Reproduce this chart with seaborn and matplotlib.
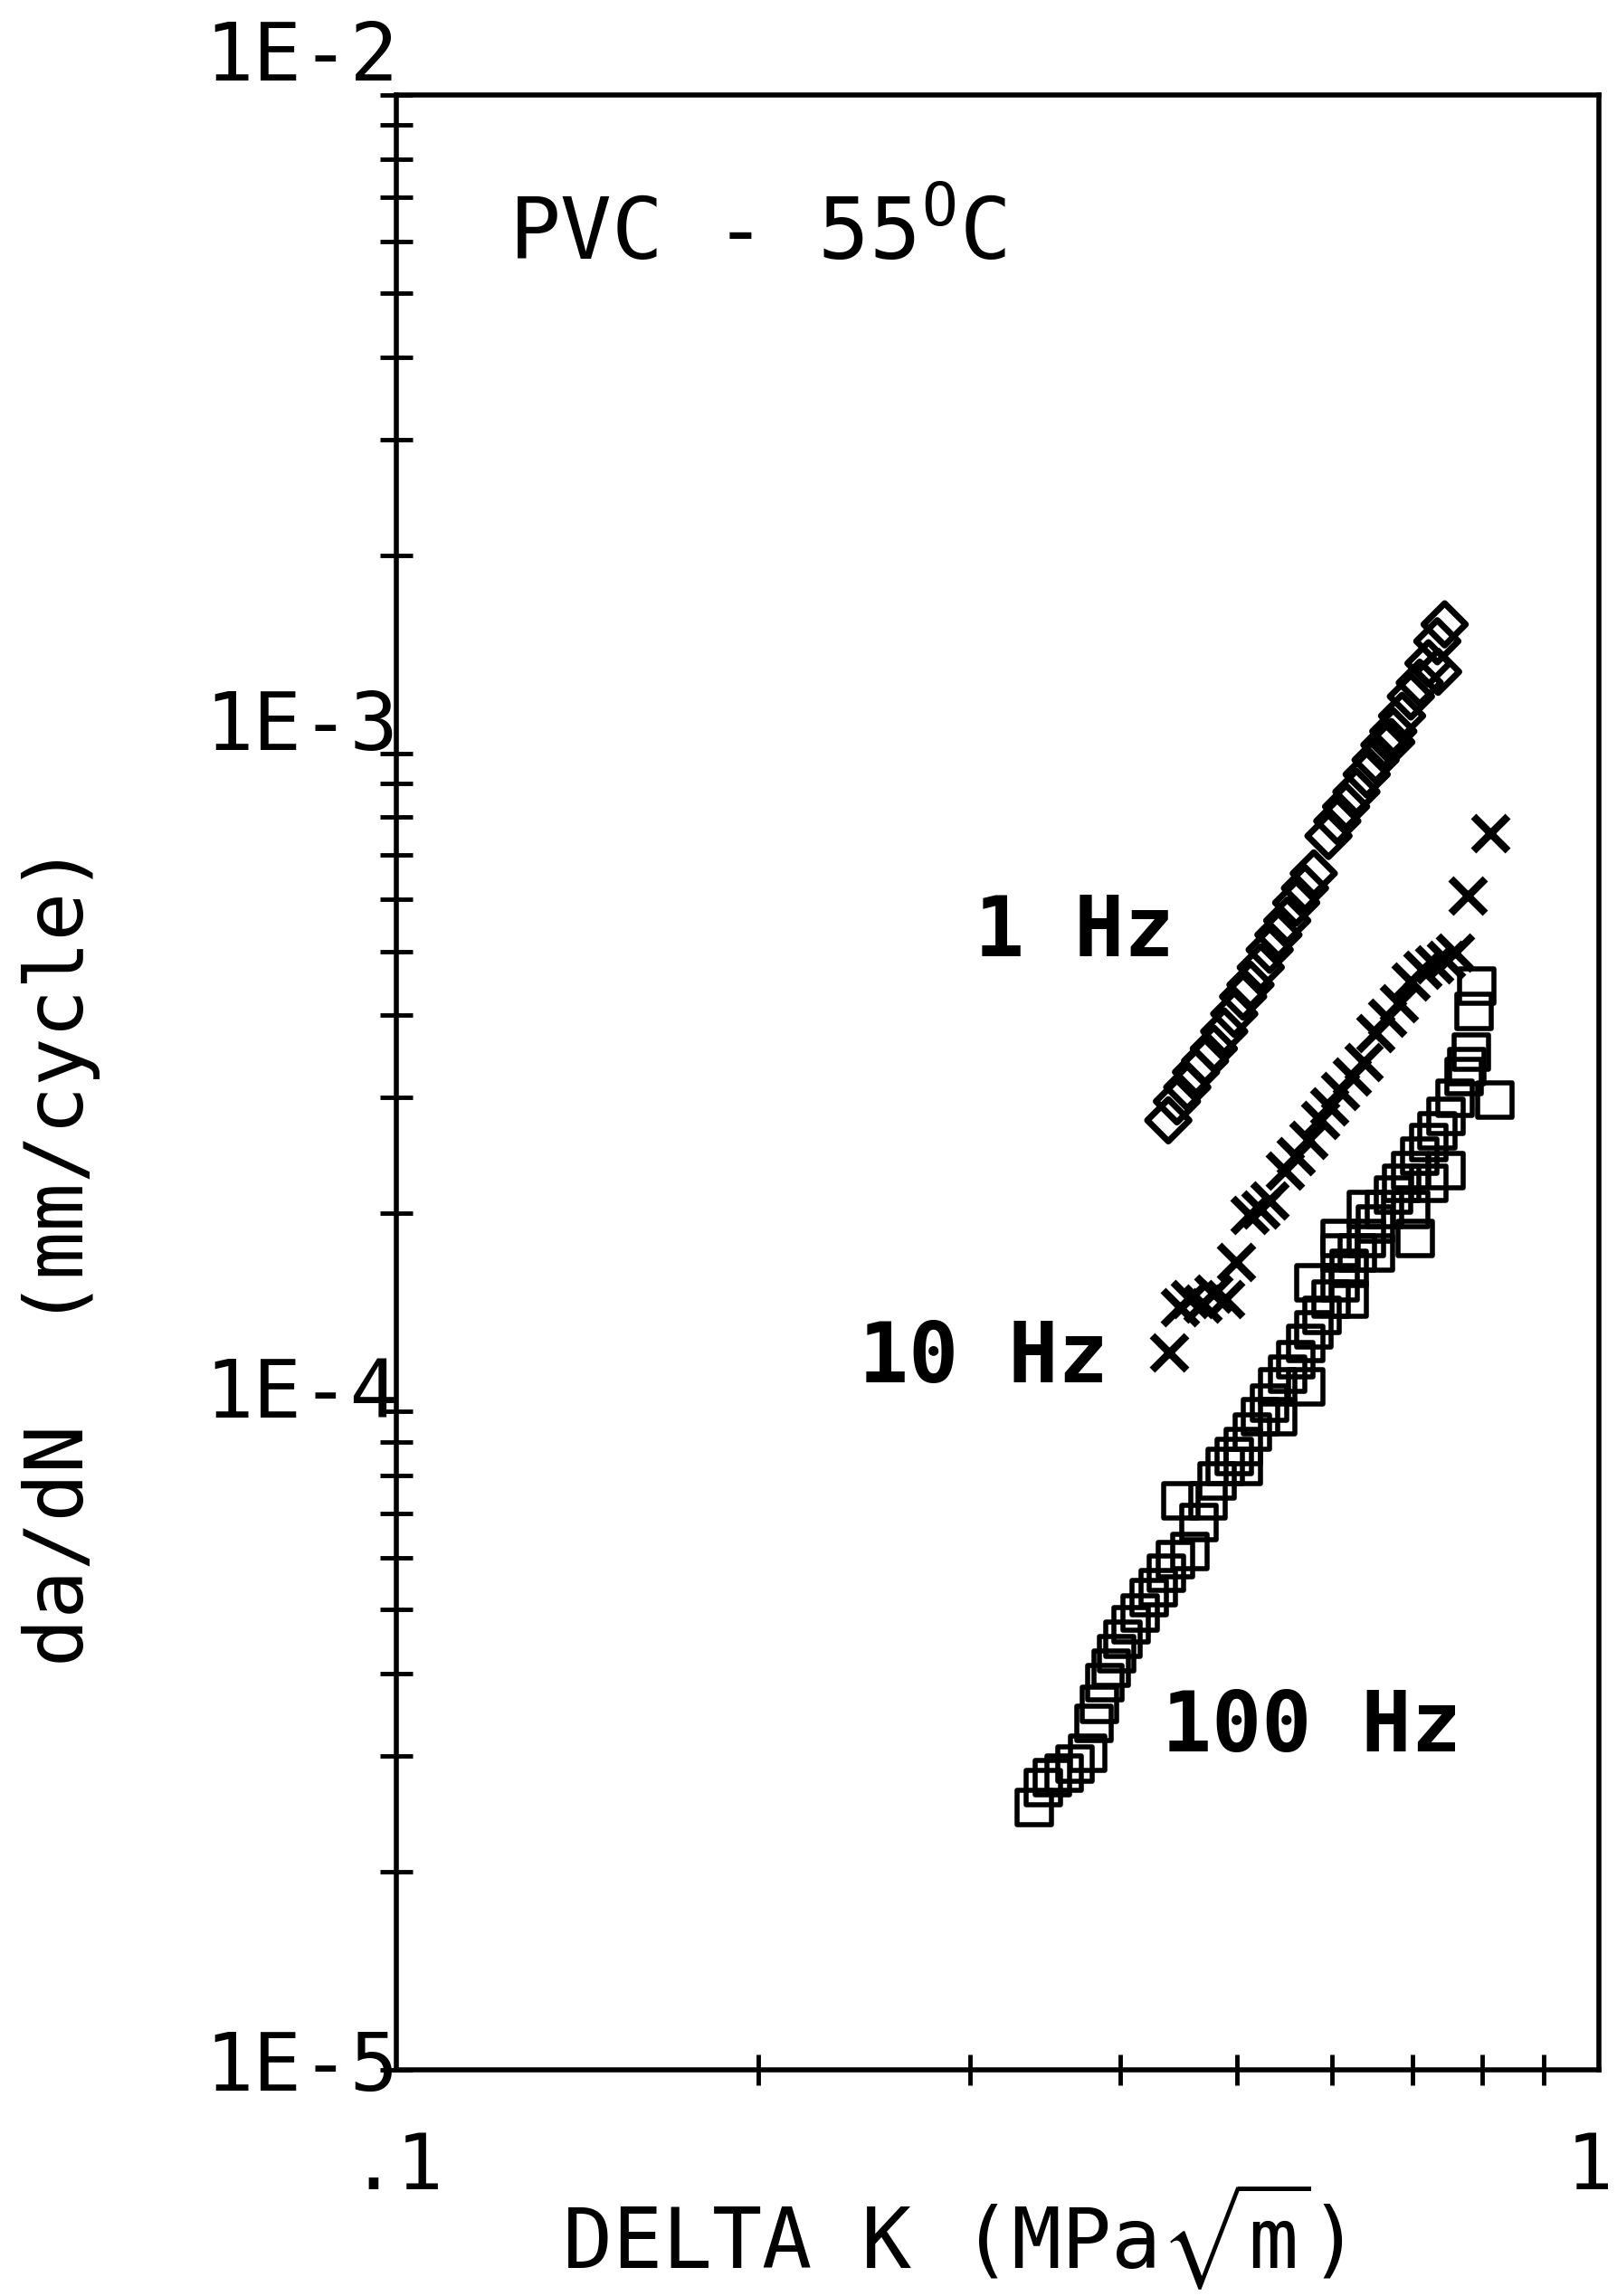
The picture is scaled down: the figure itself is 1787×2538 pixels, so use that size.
import matplotlib
matplotlib.use("Agg")
import matplotlib.pyplot as plt
import matplotlib.transforms as mtransforms
import seaborn as sns
from matplotlib.ticker import FixedLocator, NullFormatter

# Data: delta K (MPa sqrt m) vs da/dN (mm/cycle)
dk_1hz = [0.4385, 0.4458, 0.4547, 0.4624, 0.4704, 0.4784, 0.4880, 0.4975,
          0.5060, 0.5132, 0.5234, 0.5324, 0.5414, 0.5506, 0.5601, 0.5696,
          0.5793, 0.5959, 0.6060, 0.6163, 0.6286, 0.6411, 0.6521, 0.6632,
          0.6746, 0.6860, 0.6977, 0.7096, 0.7216, 0.7339, 0.7443, 0.672, 0.735]
dadn_1hz = [2.77e-4, 2.96e-4, 3.11e-4, 3.28e-4, 3.41e-4, 3.56e-4, 3.78e-4, 4.02e-4,
            4.27e-4, 4.45e-4, 4.73e-4, 5.03e-4, 5.30e-4, 5.57e-4, 5.93e-4, 6.24e-4,
            6.57e-4, 7.49e-4, 7.89e-4, 8.30e-4, 8.74e-4, 9.29e-4, 9.77e-4, 1.03e-3,
            1.08e-3, 1.14e-3, 1.22e-3, 1.28e-3, 1.37e-3, 1.48e-3, 1.57e-3, 1.04e-3, 1.33e-3]

dk_10hz = [0.4395, 0.448, 0.457, 0.468, 0.478, 0.489, 0.499, 0.512,
           0.523, 0.532, 0.548, 0.560, 0.573, 0.586, 0.597, 0.609,
           0.623, 0.637, 0.652, 0.667, 0.682, 0.697, 0.713, 0.730,
           0.746, 0.759, 0.778, 0.812]
dadn_10hz = [1.23e-4, 1.44e-4, 1.48e-4, 1.46e-4, 1.51e-4, 1.48e-4, 1.69e-4, 1.99e-4,
             2.03e-4, 2.09e-4, 2.32e-4, 2.44e-4, 2.59e-4, 2.77e-4, 2.91e-4, 3.07e-4,
             3.23e-4, 3.40e-4, 3.76e-4, 3.96e-4, 4.17e-4, 4.50e-4, 4.69e-4, 4.78e-4,
             4.86e-4, 4.98e-4, 6.08e-4, 7.57e-4]

dk_100hz = [0.339, 0.345, 0.351, 0.359, 0.367, 0.3755, 0.380, 0.384,
            0.388, 0.393, 0.397, 0.402, 0.4085, 0.4155, 0.423, 0.430,
            0.437, 0.4445, 0.4495, 0.457, 0.465, 0.473, 0.481, 0.489,
            0.4975, 0.506, 0.5146, 0.523, 0.532, 0.541, 0.551, 0.560,
            0.570, 0.579, 0.589, 0.599, 0.609, 0.620, 0.630, 0.641,
            0.652, 0.663, 0.675, 0.686, 0.698, 0.710, 0.722, 0.734,
            0.7465, 0.759, 0.772, 0.783, 0.787, 0.792, 0.819, 0.776,
            0.620, 0.652, 0.698, 0.722, 0.570, 0.541, 0.506, 0.641,
            0.609, 0.579, 0.7465, 0.609, 0.704]
dadn_100hz = [2.50e-5, 2.68e-5, 2.78e-5, 2.82e-5, 2.91e-5, 3.03e-5, 3.36e-5, 3.59e-5,
              3.87e-5, 4.08e-5, 4.29e-5, 4.51e-5, 4.75e-5, 4.95e-5, 5.21e-5, 5.40e-5,
              5.68e-5, 5.95e-5, 7.33e-5, 6.13e-5, 6.79e-5, 7.33e-5, 7.84e-5, 8.25e-5,
              8.55e-5, 8.86e-5, 9.32e-5, 9.81e-5, 1.03e-4, 1.09e-4, 1.14e-4, 1.20e-4,
              1.27e-4, 1.33e-4, 1.40e-4, 1.48e-4, 1.57e-4, 1.65e-4, 1.74e-4, 1.83e-4,
              1.93e-4, 2.03e-4, 2.13e-4, 2.22e-4, 2.32e-4, 2.44e-4, 2.56e-4, 2.67e-4,
              2.81e-4, 2.99e-4, 3.23e-4, 3.52e-4, 4.06e-4, 4.43e-4, 2.97e-4, 3.34e-4,
              1.48e-4, 1.74e-4, 2.03e-4, 2.22e-4, 1.09e-4, 9.81e-5, 8.25e-5, 2.03e-4,
              1.74e-4, 1.57e-4, 2.32e-4, 1.83e-4, 1.83e-4]

x_ticks = [0.1, 1.0]
x_ticklabels = [".1", "1"]
x_minor = [0.2, 0.3, 0.4, 0.5, 0.6, 0.7, 0.8, 0.9]
y_ticks = [1e-5, 1e-4, 1e-3, 1e-2]
y_ticklabels = ["1E-5", "1E-4", "1E-3", "1E-2"]
y_label_shift = [-16.5, -5, 3, 11.5]  # plotter drift of the labels, points

sns.set_style("white")
plt.rcParams['font.family'] = ['DejaVu Sans Mono', 'DejaVu Sans']
plt.rcParams['mathtext.fontset'] = 'custom'
plt.rcParams['mathtext.rm'] = 'DejaVu Sans Mono'
plt.rcParams['mathtext.fallback'] = 'stixsans'
plt.rcParams['text.color'] = 'black'
plt.rcParams['xtick.color'] = 'black'
plt.rcParams['ytick.color'] = 'black'

fig = plt.figure(figsize=(17.87, 25.38), dpi=100)
ax = fig.add_axes([0.2451, 0.0985, 0.7437, 0.8601])

sns.scatterplot(x=dk_100hz, y=dadn_100hz, marker='s', s=750, facecolor='none',
                edgecolor='black', linewidth=4, ax=ax)
sns.scatterplot(x=dk_10hz, y=dadn_10hz, marker='x', s=750, color='black',
                linewidth=6, ax=ax)
sns.scatterplot(x=dk_1hz, y=dadn_1hz, marker='D', s=560, facecolor='none',
                edgecolor='black', linewidth=5, ax=ax)

ax.set_xscale('log')
ax.set_yscale('log')
ax.set_xlim(0.1, 1)
ax.set_ylim(1e-5, 1e-2)

for sp in ax.spines.values():
    sp.set_color('black')
    sp.set_linewidth(4)

# x axis: labels only at .1 and 1, crossing ticks in between
ax.xaxis.set_major_locator(FixedLocator(x_ticks))
ax.set_xticklabels(x_ticklabels)
ax.xaxis.set_minor_locator(FixedLocator(x_minor))
ax.xaxis.set_minor_formatter(NullFormatter())
ax.tick_params(axis='x', which='major', bottom=True, length=0, pad=48, labelsize=62)
ax.tick_params(axis='x', which='minor', bottom=True, direction='inout', length=24,
               width=3.5, color='black')
last = ax.get_xticklabels()[-1]
last.set_transform(last.get_transform()
                   + mtransforms.ScaledTranslation(-0.1, 0, fig.dpi_scale_trans))

# y axis: crossing ticks at every decade subdivision
ax.yaxis.set_major_locator(FixedLocator(y_ticks))
ax.yaxis.set_minor_locator(FixedLocator([m * d for d in y_ticks[:-1] for m in range(2, 10)]))
ax.yaxis.set_minor_formatter(NullFormatter())
ax.tick_params(axis='y', which='both', left=True, direction='inout', length=26,
               width=3.5, color='black', labelleft=False)
for val, lbl, dy in zip(y_ticks, y_ticklabels, y_label_shift):
    ax.annotate(lbl, xy=(0, val), xycoords=('axes fraction', 'data'),
                xytext=(2, dy), textcoords='offset points',
                ha='right', va='baseline', fontsize=64)

ax.text(0.0933, 0.929, r"PVC - 55$^{\mathrm{O}}$C", transform=ax.transAxes,
        ha='left', va='center', fontsize=68)
ax.text(0.564, 0.576, "1 Hz", transform=ax.transAxes,
        ha='center', va='center', fontsize=66, fontweight='bold')
ax.text(0.488, 0.360, "10 Hz", transform=ax.transAxes,
        ha='center', va='center', fontsize=66, fontweight='bold')
ax.text(0.761, 0.173, "100 Hz", transform=ax.transAxes,
        ha='center', va='center', fontsize=66, fontweight='bold')

fig.text(0.038, 0.4535, "da/dN  (mm/cycle)", rotation=90,
         ha='center', va='center', fontsize=64)
fig.text(0.589, 0.0118, r"DELTA K (MPa$\sqrt{\mathrm{m}}$)",
         ha='center', va='baseline', fontsize=66)

fig.savefig("out.png", dpi=100, facecolor='white')
